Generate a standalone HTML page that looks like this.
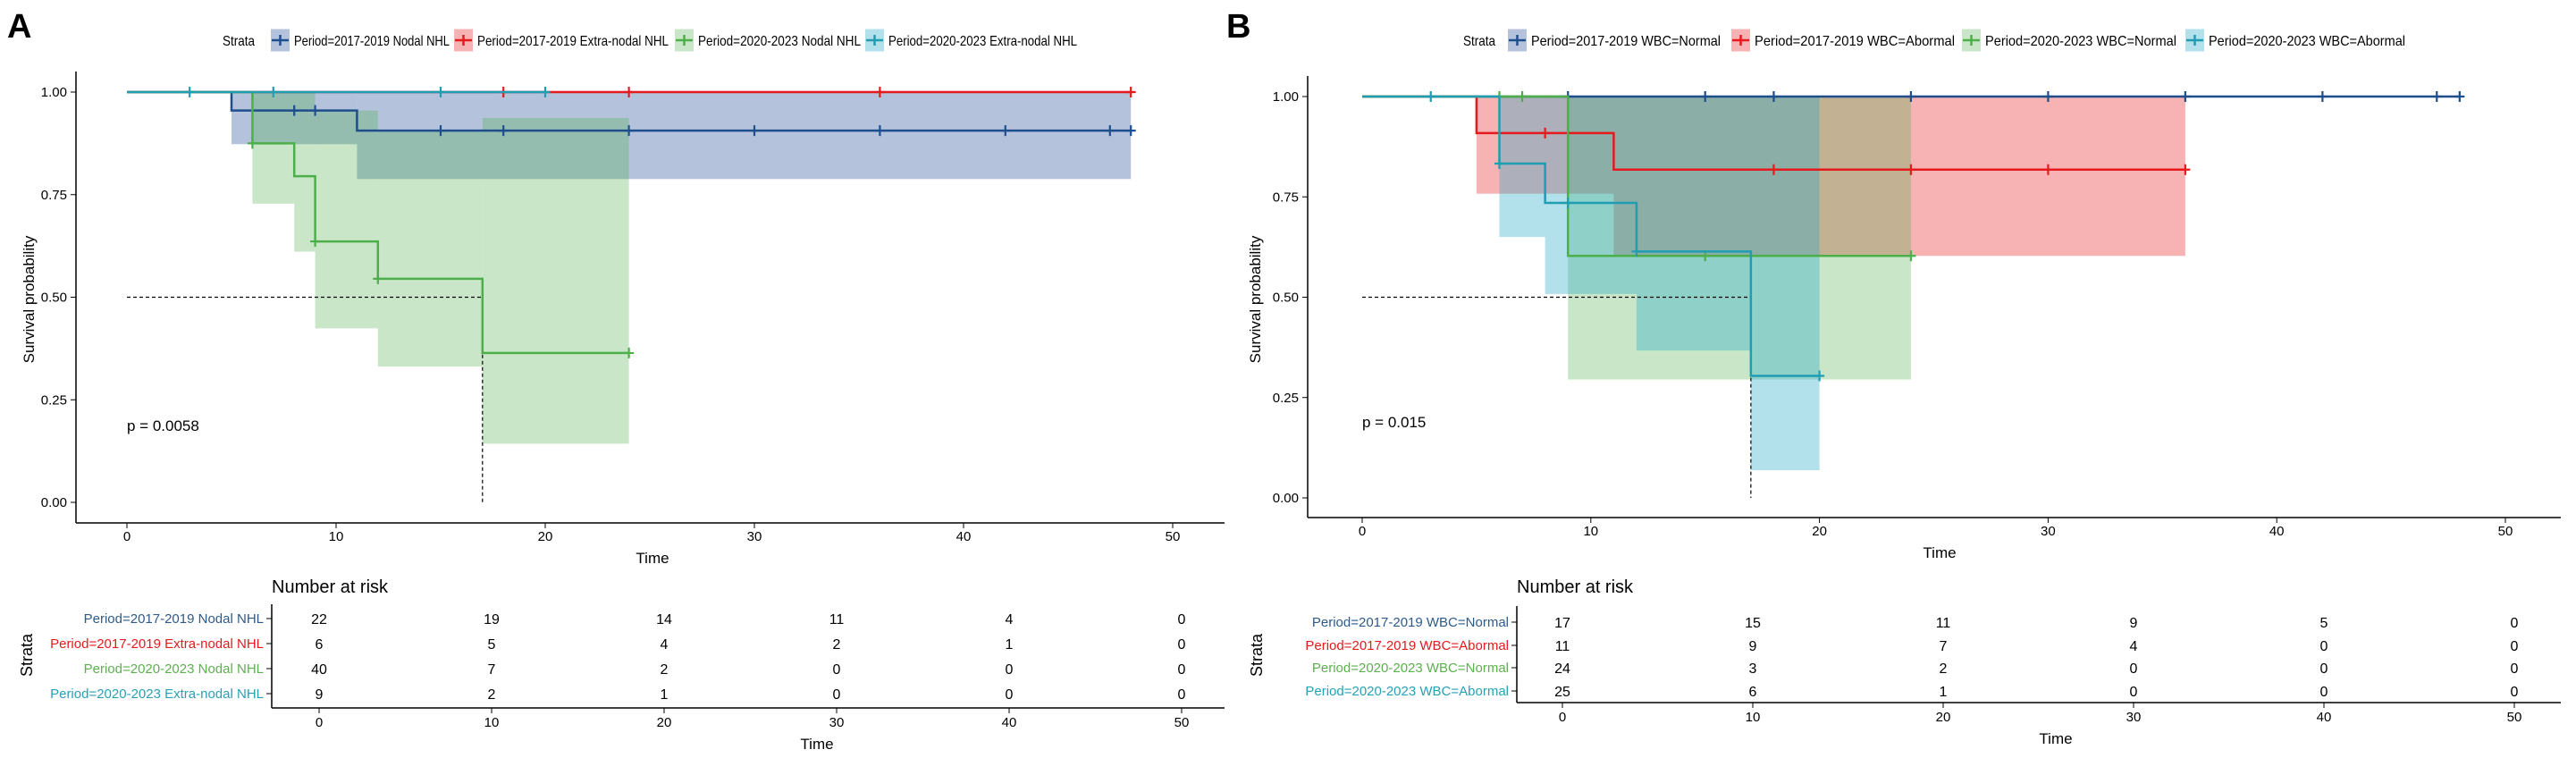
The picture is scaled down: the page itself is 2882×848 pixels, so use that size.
<!DOCTYPE html>
<html><head><meta charset="utf-8"><style>
html,body{margin:0;padding:0;background:#fff;}
svg{display:block;font-family:"Liberation Sans",sans-serif;}
</style></head><body>
<svg id="fig" width="2882" height="848" viewBox="0 0 2882 848" xmlns="http://www.w3.org/2000/svg">
<rect width="2882" height="848" fill="#fff"/>
<text x="8" y="42" font-size="38" font-weight="bold">A</text>
<text x="1372" y="42" font-size="38" font-weight="bold">B</text>
<g id="panelA"></g>
<g id="panelB"></g>
</svg>
<script>
// ---------- Panel A data ----------
const aLabels = ["Period=2017-2019  Nodal NHL","Period=2017-2019  Extra-nodal NHL","Period=2020-2023  Nodal NHL","Period=2020-2023  Extra-nodal NHL"];
const aRowLabels = ["Period=2017-2019 Nodal NHL","Period=2017-2019 Extra-nodal NHL","Period=2020-2023 Nodal NHL","Period=2020-2023 Extra-nodal NHL"];
const aS1T = [0,5,11,48];  const aS1V = [1,0.955,0.906,0.906];
const aS2T = [0,48];       const aS2V = [1,1];
const aS3T = [0,6,8,9,12,17,24]; const aS3V = [1,0.875,0.795,0.636,0.545,0.364,0.364];
const aS4T = [0,20];       const aS4V = [1,1];
const aS1C = [8,9,15,18,24,30,36,42,47,48];
const aS2C = [18,24,36,48];
const aS3C = [6,9,12,24];
const aS4C = [3,7,15,20];
const aS1ciStart=[5,11]; const aS1ciEnd=[11,48]; const aS1ciLow=[0.873,0.788]; const aS1ciHigh=[1,1];
const aS3ciStart=[6,8,9,12,17]; const aS3ciEnd=[8,9,12,17,24]; const aS3ciLow=[0.728,0.611,0.424,0.331,0.143]; const aS3ciHigh=[1,1,0.955,0.906,0.937];
const aRisk1=[22,19,14,11,4,0]; const aRisk2=[6,5,4,2,1,0]; const aRisk3=[40,7,2,0,0,0]; const aRisk4=[9,2,1,0,0,0];
const aMedian = 17;
const aPval = "p = 0.0058";
// ---------- Panel B data ----------
const bLabels = ["Period=2017-2019 WBC=Normal","Period=2017-2019 WBC=Abormal","Period=2020-2023 WBC=Normal","Period=2020-2023 WBC=Abormal"];
const bS1T=[0,48]; const bS1V=[1,1];
const bS2T=[0,5,11,36]; const bS2V=[1,0.909,0.818,0.818];
const bS3T=[0,9,24]; const bS3V=[1,0.603,0.603];
const bS4T=[0,6,8,12,17,20]; const bS4V=[1,0.833,0.735,0.614,0.304,0.304];
const bS1C=[9,15,18,24,30,36,42,47,48];
const bS2C=[8,18,24,30,36];
const bS3C=[6,7,15,24];
const bS4C=[3,6,9,12,20];
const bS2ciStart=[5,11]; const bS2ciEnd=[11,36]; const bS2ciLow=[0.758,0.603]; const bS2ciHigh=[1,1];
const bS3ciStart=[9]; const bS3ciEnd=[24]; const bS3ciLow=[0.295]; const bS3ciHigh=[1];
const bS4ciStart=[6,8,12,17]; const bS4ciEnd=[8,12,17,20]; const bS4ciLow=[0.65,0.508,0.367,0.069]; const bS4ciHigh=[1,1,1,1];
const bRisk1=[17,15,11,9,5,0]; const bRisk2=[11,9,7,4,0,0]; const bRisk3=[24,3,2,0,0,0]; const bRisk4=[25,6,1,0,0,0];
const bMedian = 17;
const bPval = "p = 0.015";
const xTicks=[0,10,20,30,40,50];
const yTicks=[0,0.25,0.5,0.75,1];
const yTickLabels=["0.00","0.25","0.50","0.75","1.00"];

const lineCols=["#1F4E8C","#E41A1C","#4DAF4A","#1E9DB3"];
const fillCols=["#2E5A9A","#E7151B","#4DAF4A","#2AA8C8"];
const fillOp=[0.36,0.33,0.3,0.36];
const textCols=["#2E5A8A","#E41A1C","#5DB04F","#27A1B5"];
const NS="http://www.w3.org/2000/svg";
function mk(p,tag,attrs,txt){const e=document.createElementNS(NS,tag);for(const k in attrs)e.setAttribute(k,attrs[k]);if(txt!==undefined)e.textContent=txt;p.appendChild(e);return e;}

function drawPanel(g,cfg){
  const X=t=>cfg.x0+(cfg.x50-cfg.x0)*t/50;
  const Y=s=>cfg.y0+(cfg.y1-cfg.y0)*s;
  const TX=t=>cfg.tx0+(cfg.tx50-cfg.tx0)*t/50;
  const LY=45;
  let e=mk(g,'text',{x:cfg.legStrata,y:LY+6,'font-size':16,textLength:36,lengthAdjust:'spacingAndGlyphs'},'Strata');
  
  
  cfg.labels.forEach((lab,i)=>{
    const kx=cfg.legKeys[i];
    const lg=mk(g,'g',{});
    
    
    mk(lg,'rect',{x:kx,y:LY-12.5,width:21,height:25,fill:fillCols[i],'fill-opacity':fillOp[i]});
    mk(lg,'line',{x1:kx+1,x2:kx+20,y1:LY,y2:LY,stroke:lineCols[i],'stroke-width':2.5});
    mk(lg,'line',{x1:kx+10.5,x2:kx+10.5,y1:LY-6,y2:LY+6,stroke:lineCols[i],'stroke-width':2.5});
    mk(lg,'text',{x:kx+26,y:LY+6,'font-size':16,textLength:cfg.legW[i],lengthAdjust:'spacingAndGlyphs'},lab);
  });
  e=mk(g,'line',{x1:cfg.ax,x2:cfg.ax,y1:cfg.axTop,y2:cfg.axBot,stroke:'#000','stroke-width':1.5});
  
  e=mk(g,'line',{x1:cfg.ax,x2:cfg.axRight,y1:cfg.axBot,y2:cfg.axBot,stroke:'#000','stroke-width':1.5});
  
  yTicks.forEach((v,i)=>{
    mk(g,'line',{x1:cfg.ax-6,x2:cfg.ax,y1:Y(v),y2:Y(v),stroke:'#000','stroke-width':1});
    const t=mk(g,'text',{x:cfg.ax-10,y:Y(v)+5,'font-size':15,'text-anchor':'end'},yTickLabels[i]);
    
  });
  xTicks.forEach(v=>{
    mk(g,'line',{x1:X(v),x2:X(v),y1:cfg.axBot,y2:cfg.axBot+6,stroke:'#000','stroke-width':1});
    const t=mk(g,'text',{x:X(v),y:cfg.axBot+20,'font-size':15,'text-anchor':'middle'},String(v));
    
  });
  e=mk(g,'text',{x:0,y:0,'font-size':17,'text-anchor':'middle',transform:`translate(${cfg.yTitleX},335) rotate(-90)`},'Survival probability');
  
  e=mk(g,'text',{x:cfg.timeX,y:cfg.axBot+45,'font-size':17,'text-anchor':'middle'},'Time');
  
  cfg.cis.forEach((ci,k)=>{
    if(!ci)return;
    ci.st.forEach((s,j)=>{
      const r=mk(g,'rect',{x:X(s),y:Y(ci.hi[j]),width:X(ci.en[j])-X(s),height:Y(ci.lo[j])-Y(ci.hi[j]),fill:fillCols[k],'fill-opacity':fillOp[k]});
      
      
    });
  });
  e=mk(g,'path',{d:`M${X(0)},${Y(0.5)}H${X(cfg.median)}V${Y(0)}`,fill:'none',stroke:'#000','stroke-width':1.2,'stroke-dasharray':'4,3'});
  
  cfg.series.forEach((s,k)=>{
    let d=`M${X(s.t[0])},${Y(s.v[0])}`;
    for(let i=1;i<s.t.length;i++){d+=`H${X(s.t[i])}V${Y(s.v[i])}`;}
    const p=mk(g,'path',{d:d,fill:'none',stroke:lineCols[k],'stroke-width':2.5});
    
    
    s.c.forEach(ct=>{
      let v=s.v[0];for(let i=0;i<s.t.length;i++){if(s.t[i]<=ct)v=s.v[i];}
      const cm=mk(g,'path',{d:`M${X(ct)-5.5},${Y(v)}h11M${X(ct)},${Y(v)-6}v12`,stroke:lineCols[k],'stroke-width':2.2});
      
      
    });
  });
  e=mk(g,'text',{x:X(0),y:cfg.pY,'font-size':17},cfg.pval);
  
  e=mk(g,'text',{x:cfg.tax,y:663,'font-size':20},'Number at risk');
  
  mk(g,'line',{x1:cfg.tax,x2:cfg.tax,y1:cfg.tTop,y2:cfg.tBot,stroke:'#000','stroke-width':1.5});
  mk(g,'line',{x1:cfg.tax,x2:cfg.axRight,y1:cfg.tBot,y2:cfg.tBot,stroke:'#000','stroke-width':1.5});
  cfg.rows.forEach((row,i)=>{
    const ry=cfg.rowY[i];
    mk(g,'line',{x1:cfg.tax-6,x2:cfg.tax,y1:ry,y2:ry,stroke:'#000','stroke-width':1});
    const lt=mk(g,'text',{x:cfg.tax-9,y:ry+5,'font-size':15,'text-anchor':'end',fill:textCols[i]},cfg.rowLabels[i]);
    
    
    row.forEach((n,j)=>{
      const nt=mk(g,'text',{x:TX(xTicks[j]),y:ry+6,'font-size':16,'text-anchor':'middle'},String(n));
      
      
    });
  });
  xTicks.forEach(v=>{
    mk(g,'line',{x1:TX(v),x2:TX(v),y1:cfg.tBot,y2:cfg.tBot+6,stroke:'#000','stroke-width':1});
    mk(g,'text',{x:TX(v),y:cfg.tBot+21,'font-size':15,'text-anchor':'middle'},String(v));
  });
  e=mk(g,'text',{x:cfg.ttimeX,y:cfg.tBot+46,'font-size':17,'text-anchor':'middle'},'Time');
  
  e=mk(g,'text',{x:0,y:0,'font-size':18,'text-anchor':'middle',transform:`translate(${cfg.strataX},733) rotate(-90)`},'Strata');
  
}

drawPanel(document.getElementById('panelA'),{
  x0:142,x50:1312,y0:562,y1:103,ax:85,axTop:80,axBot:585,axRight:1370,yTitleX:38,timeX:730,pY:482,pval:aPval,
  legStrata:249,legKeys:[303,508,755,968],legW:[174,214,182,211],labels:aLabels,median:aMedian,
  cis:[{st:aS1ciStart,en:aS1ciEnd,lo:aS1ciLow,hi:aS1ciHigh},null,{st:aS3ciStart,en:aS3ciEnd,lo:aS3ciLow,hi:aS3ciHigh},null],
  series:[{t:aS1T,v:aS1V,c:aS1C},{t:aS2T,v:aS2V,c:aS2C},{t:aS3T,v:aS3V,c:aS3C},{t:aS4T,v:aS4V,c:aS4C}],
  tax:304,tTop:676,tBot:792,tx0:357,tx50:1322,rowY:[692,720,748,776],rows:[aRisk1,aRisk2,aRisk3,aRisk4],rowLabels:aRowLabels,
  ttimeX:914,strataX:36
});
drawPanel(document.getElementById('panelB'),{
  x0:1524,x50:2803,y0:557,y1:108,ax:1463,axTop:85,axBot:579,axRight:2865,yTitleX:1410,timeX:2170,pY:478,pval:bPval,
  legStrata:1637,legKeys:[1687,1937,2195,2445],legW:[212,224,214,220],labels:bLabels,median:bMedian,
  cis:[null,{st:bS2ciStart,en:bS2ciEnd,lo:bS2ciLow,hi:bS2ciHigh},{st:bS3ciStart,en:bS3ciEnd,lo:bS3ciLow,hi:bS3ciHigh},{st:bS4ciStart,en:bS4ciEnd,lo:bS4ciLow,hi:bS4ciHigh}],
  series:[{t:bS1T,v:bS1V,c:bS1C},{t:bS2T,v:bS2V,c:bS2C},{t:bS3T,v:bS3V,c:bS3C},{t:bS4T,v:bS4V,c:bS4C}],
  tax:1697,tTop:678,tBot:786,tx0:1748,tx50:2813,rowY:[696,722,747,773],rows:[bRisk1,bRisk2,bRisk3,bRisk4],rowLabels:bLabels,
  ttimeX:2300,strataX:1412
});
</script>
</body></html>
